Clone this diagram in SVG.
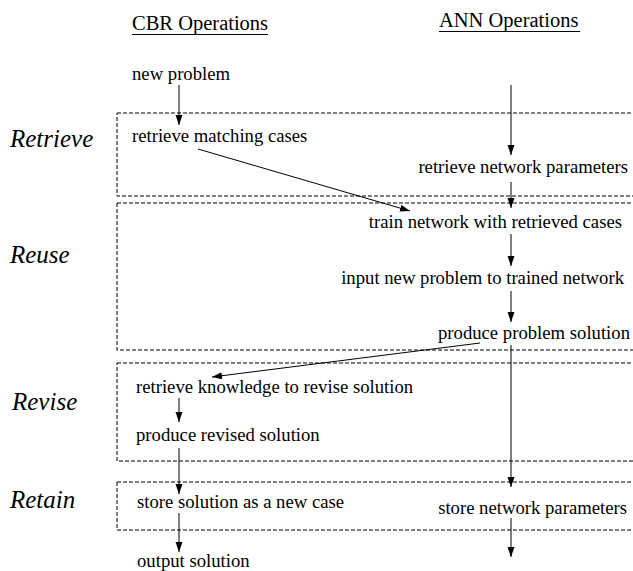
<svg xmlns="http://www.w3.org/2000/svg" width="633" height="571" viewBox="0 0 633 571">
<style>
.t{font-size:18.7px}
.h{font-size:20.5px}
.ph{font-size:25px;font-style:italic}
.box{fill:none;stroke:#000;stroke-width:1;stroke-dasharray:4 2}
.c{fill:none;stroke:#000;stroke-width:1;marker-end:url(#ah)}
.ul{stroke:#000;stroke-width:1}
</style>
<defs>
<marker id="ah" markerUnits="userSpaceOnUse" markerWidth="10" markerHeight="8" refX="10" refY="3.5" orient="auto">
<path d="M0,0 L10,3.5 L0,7 z" fill="#000"/>
</marker>
</defs>
<rect width="633" height="571" fill="#fff"/>
<g font-family="Liberation Serif, Times New Roman, DejaVu Serif, serif" fill="#000">
<g id="phases">
<g id="phase-retrieve"><rect class="box" x="117" y="113" width="530" height="83"/><text class="ph" x="10" y="147">Retrieve</text></g>
<g id="phase-reuse"><rect class="box" x="117" y="203" width="530" height="147"/><text class="ph" x="10" y="263">Reuse</text></g>
<g id="phase-revise"><rect class="box" x="117" y="363" width="530" height="98"/><text class="ph" x="12" y="410">Revise</text></g>
<g id="phase-retain"><rect class="box" x="117" y="482" width="530" height="48"/><text class="ph" x="10" y="508">Retain</text></g>
</g>
<g id="headers">
<g id="hdr-cbr"><text class="h" x="132" y="30">CBR Operations</text><line class="ul" x1="132" y1="34.5" x2="268" y2="34.5"/></g>
<g id="hdr-ann"><text class="h" x="439" y="27">ANN Operations</text><line class="ul" x1="439" y1="31.5" x2="580" y2="31.5"/></g>
</g>
<g id="n-new-problem"><text class="t" x="132" y="80">new problem</text></g>
<g id="n-retrieve-cases"><text class="t" x="132" y="142">retrieve matching cases</text></g>
<g id="n-retrieve-params"><text class="t" x="628" y="173" text-anchor="end">retrieve network parameters</text></g>
<g id="n-train"><text class="t" x="622" y="228" text-anchor="end">train network with retrieved cases</text></g>
<g id="n-input"><text class="t" x="624" y="284" text-anchor="end">input new problem to trained network</text></g>
<g id="n-produce-solution"><text class="t" x="630" y="339" text-anchor="end">produce problem solution</text></g>
<g id="n-retrieve-knowledge"><text class="t" x="136" y="393">retrieve knowledge to revise solution</text></g>
<g id="n-revised"><text class="t" x="136" y="441">produce revised solution</text></g>
<g id="n-store-case"><text class="t" x="137" y="508">store solution as a new case</text></g>
<g id="n-store-params"><text class="t" x="627" y="514" text-anchor="end">store network parameters</text></g>
<g id="n-output"><text class="t" x="137" y="567">output solution</text></g>
</g>
<g id="connectors">
<line class="c" x1="179" y1="85" x2="179" y2="125"/>
<line class="c" x1="511" y1="85" x2="511" y2="155"/>
<line class="c" x1="198" y1="149" x2="410" y2="211"/>
<line class="c" x1="511" y1="182" x2="511" y2="208"/>
<line class="c" x1="511" y1="234" x2="511" y2="266"/>
<line class="c" x1="511" y1="291" x2="511" y2="322"/>
<line class="c" x1="511" y1="345" x2="511" y2="487"/>
<line class="c" x1="480" y1="343" x2="212" y2="377"/>
<line class="c" x1="179" y1="398" x2="179" y2="422"/>
<line class="c" x1="179" y1="448" x2="179" y2="494"/>
<line class="c" x1="179" y1="513" x2="179" y2="552"/>
<line class="c" x1="511" y1="518" x2="511" y2="557"/>
</g>
</svg>
